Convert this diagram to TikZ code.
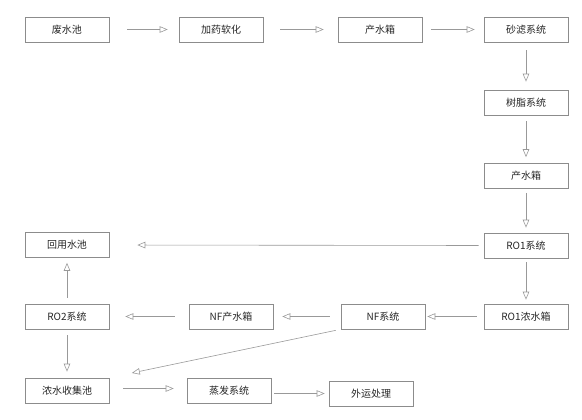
\documentclass[tikz,border=0pt]{standalone}
\usepackage{fontspec}
\newfontfamily\cjk{Noto Sans CJK SC}
\usetikzlibrary{arrows.meta}
\begin{document}
\begin{tikzpicture}[x=1pt,y=-1pt,
  box/.style={draw=black!45, line width=0.6pt, minimum width=84pt, minimum height=25pt, inner sep=0pt, font=\cjk\fontsize{10}{12}\selectfont, text=black!85},
  flow/.style={draw=black!40, line width=0.6pt, -{Triangle[open, length=8pt, width=6.5pt]}}]
\useasboundingbox (0,0) rectangle (582,420);
\node[box] (a1) at (67,29.5) {废水池};
\node[box] (a2) at (221,29.5) {加药软化};
\node[box] (a3) at (380,29.5) {产水箱};
\node[box] (a4) at (526,29.5) {砂滤系统};
\node[box] (b1) at (526,102.5) {树脂系统};
\node[box] (b2) at (526,176) {产水箱};
\node[box] (b3) at (526,245.5) {RO1系统};
\node[box] (b4) at (526,316.5) {RO1浓水箱};
\node[box] (c1) at (383,316.5) {NF系统};
\node[box] (c2) at (231,316.5) {NF产水箱};
\node[box] (c3) at (67,316.5) {RO2系统};
\node[box] (d1) at (67,245) {回用水池};
\node[box] (e1) at (67,390.5) {浓水收集池};
\node[box] (e2) at (229,390.5) {蒸发系统};
\node[box] (e3) at (371,393.5) {外运处理};

\draw[flow, shorten <=18pt, shorten >=11pt] (a1.east) -- (a2.west);
\draw[flow, shorten <=17pt, shorten >=14pt] (a2.east) -- (a3.west);
\draw[flow, shorten <=9pt, shorten >=9pt] (a3.east) -- (a4.west);
\draw[flow, shorten <=8pt, shorten >=8pt] (a4.south) -- (b1.north);
\draw[flow, shorten <=6pt, shorten >=6pt] (b1.south) -- (b2.north);
\draw[flow, shorten <=4pt, shorten >=5pt] (b2.south) -- (b3.north);
\draw[flow, shorten <=4pt, shorten >=4pt] (b3.south) -- (b4.north);
\draw[flow, shorten <=7pt, shorten >=2pt] (b4.west) -- (c1.east);
\draw[flow, shorten <=5pt, shorten >=28pt] (b3.west) -- (d1.east);
\draw[flow, shorten <=11pt, shorten >=9pt] (c1.west) -- (c2.east);
\draw[flow, shorten <=14pt, shorten >=16pt] (c2.west) -- (c3.east);
\draw[flow, shorten <=6pt, shorten >=5pt] (c3.north) -- (d1.south);
\draw[flow, shorten <=6pt, shorten >=6pt] (c3.south) -- (e1.north);
\draw[flow, shorten <=5pt, shorten >=23pt] (c1.south west) -- (e1.north east);
\draw[flow, shorten <=14pt, shorten >=13pt] ([yshift=2pt]e1.east) -- ([yshift=2pt]e2.west);
\draw[flow, shorten <=3pt, shorten >=4pt] (e2.east |- e3.west) -- (e3.west);
\end{tikzpicture}
\end{document}
